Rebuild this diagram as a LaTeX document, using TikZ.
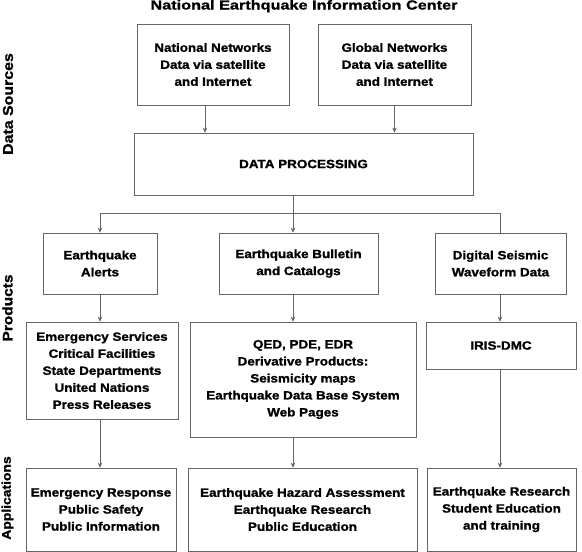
\documentclass[tikz,border=0pt]{standalone}
\usepackage{fontspec}
\setmainfont{Liberation Sans}[FakeStretch=1.12, BoldFeatures={FakeBold=1.3}]
\newfontfamily\titlefont{Liberation Sans}[FakeStretch=1.25, BoldFeatures={FakeBold=1.3}]
\usetikzlibrary{arrows.meta}
\begin{document}
\begin{tikzpicture}[x=1pt,y=-1pt,
  box/.style={draw=black!60, line width=0.7pt, inner sep=0pt, align=center,
    font=\fontsize{12}{17}\selectfont\bfseries},
  conn/.style={draw=black!60, line width=0.7pt},
  arr/.style={conn, -{Stealth[length=5pt,width=4.5pt,fill=black!85]}},
  side/.style={rotate=90, inner sep=0pt, anchor=center}]
\useasboundingbox (0,0) rectangle (582,552);
% title and side labels
\node[anchor=base, inner sep=0pt] (title) at (304,9.5) {\titlefont\fontsize{13}{13}\selectfont\bfseries National Earthquake Information Center};
\node[side] (ds) at (8,104) {\fontsize{14.2}{14}\selectfont\bfseries Data Sources};
\node[side] (pr) at (7.5,308) {\fontsize{13.8}{14}\selectfont\bfseries Products};
\node[side] (ap) at (7.5,498) {\fontsize{12.4}{14}\selectfont\bfseries Applications};
% boxes
\node[box, minimum width=152, minimum height=81] (nat) at (213,64.5) {National Networks\\Data via satellite\\and Internet};
\node[box, minimum width=153, minimum height=81] (glob) at (394.5,64.5) {Global Networks\\Data via satellite\\and Internet};
\node[box, minimum width=339, minimum height=62] (dp) at (303.5,164) {DATA PROCESSING};
\node[box, minimum width=114, minimum height=61] (alerts) at (100,263.5) {Earthquake\\Alerts};
\node[box, minimum width=159, minimum height=61] (bull) at (298.5,263.5) {Earthquake Bulletin\\and Catalogs};
\node[box, minimum width=131, minimum height=61] (dig) at (500.5,263.5) {Digital Seismic\\Waveform Data};
\node[box, minimum width=152, minimum height=97] (emerg) at (102,370.5) {Emergency Services\\Critical Facilities\\State Departments\\United Nations\\Press Releases};
\node[box, minimum width=226, minimum height=115] (qed) at (303,379.5) {QED, PDE, EDR\\Derivative Products:\\Seismicity maps\\Earthquake Data Base System\\Web Pages};
\node[box, minimum width=150, minimum height=47] (iris) at (501,345.5) {IRIS-DMC};
\node[box, minimum width=150, minimum height=83] (app1) at (101,509.5) {Emergency Response\\Public Safety\\Public Information};
\node[box, minimum width=229, minimum height=83] (app2) at (302.5,509.5) {Earthquake Hazard Assessment\\Earthquake Research\\Public Education};
\node[box, minimum width=149, minimum height=83] (app3) at (501.5,509.5) {Earthquake Research\\Student Education\\and training};
% connector positions
\coordinate (c1) at (205,0);
\coordinate (split) at (293,213);
\coordinate (c3) at (500,0);
% connectors
\draw[arr] (nat.south -| c1) -- (dp.north -| c1);
\draw[arr] (glob.south) -- (dp.north -| glob);
\draw[conn] (dp.south -| split) -- (split);
\draw[conn] (split -| alerts) -- (split -| c3);
\draw[arr] (split -| alerts) -- (alerts.north);
\draw[arr] (split) -- (bull.north -| split);
\draw[conn] (split -| c3) -- (dig.north -| c3);
\draw[arr] (alerts.south) -- (emerg.north -| alerts);
\draw[arr] (bull.south -| split) -- (qed.north -| split);
\draw[arr] (dig.south -| c3) -- (iris.north -| c3);
\draw[arr] (emerg.south -| alerts) -- (app1.north -| alerts);
\draw[arr] (qed.south -| split) -- (app2.north -| split);
\draw[arr] (iris.south -| c3) -- (app3.north -| c3);
\end{tikzpicture}
\end{document}
